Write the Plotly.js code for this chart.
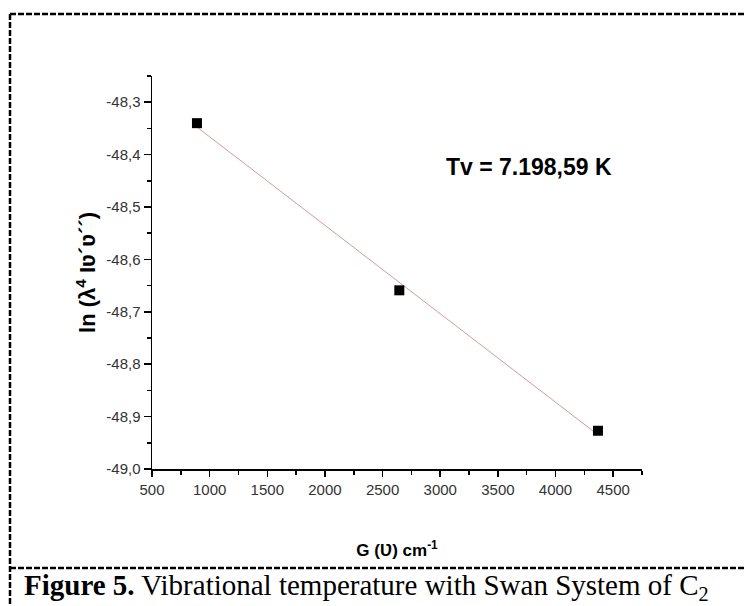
<!DOCTYPE html>
<html>
<head>
<meta charset="utf-8">
<script src="https://cdn.plot.ly/plotly-3.0.1.min.js"></script>
<style>
html,body{margin:0;padding:0;background:#fff;}
#chart{width:744px;height:606px;}
</style>
</head>
<body>
<div id="chart"></div>
<script>
// Data
var gValues = [890, 2645, 4368];            // G(v) cm^-1
var lnValues = [-48.340, -48.659, -48.927]; // ln(lambda^4 I)
var yTickVals = [-49.0, -48.9, -48.8, -48.7, -48.6, -48.5, -48.4, -48.3];
var yTickText = ['-49,0', '-48,9', '-48,8', '-48,7', '-48,6', '-48,5', '-48,4', '-48,3'];
var xTickVals = [500, 1000, 1500, 2000, 2500, 3000, 3500, 4000, 4500];
var xTickText = ['500', '1000', '1500', '2000', '2500', '3000', '3500', '4000', '4500'];
var annotationText = '<b>Tv = 7.198,59 K</b>';

// least squares linear fit through the data
var n = gValues.length, sx = 0, sy = 0, sxx = 0, sxy = 0;
for (var i = 0; i < n; i++) { sx += gValues[i]; sy += lnValues[i]; sxx += gValues[i]*gValues[i]; sxy += gValues[i]*lnValues[i]; }
var slope = (n*sxy - sx*sy) / (n*sxx - sx*sx);
var inter = (sy - slope*sx) / n;
var fitX = [gValues[0], gValues[n-1]];
var fitY = fitX.map(function(x){ return inter + slope*x; });

var traces = [
  {x: fitX, y: fitY, mode: 'lines', line: {color: '#d49a9a', width: 1}, hoverinfo: 'skip', showlegend: false},
  {x: gValues, y: lnValues, mode: 'markers', marker: {symbol: 'square', size: 10, color: '#000'}, showlegend: false}
];

var PL = 152, PR = 642, PT = 76, PB = 469;
function px(x){ return (x - PL) / (PR - PL); }
function py(y){ return (PB - y) / (PB - PT); }
var dash = {color: '#000', width: 2.5, dash: '6px,2px'};

var layout = {
  width: 744, height: 606,
  margin: {l: PL, r: 744 - PR, t: PT, b: 606 - PB},
  paper_bgcolor: '#fff', plot_bgcolor: '#fff',
  font: {family: 'Liberation Sans, Arial, sans-serif', color: '#222', size: 15},
  xaxis: {
    range: [500, 4750], showgrid: false, zeroline: false,
    showline: true, linecolor: '#000', linewidth: 1.5,
    ticks: 'outside', ticklen: 6, tickwidth: 1.5, tickcolor: '#000',
    tickmode: 'array', tickvals: xTickVals, ticktext: xTickText,
    minor: {ticks: 'outside', ticklen: 4, tickwidth: 1.5, tickcolor: '#000', dtick: 250, tick0: 500, showgrid: false},
    tickfont: {size: 15, color: '#333'},
    title: {text: '<b>G (Ʋ) cm<sup>-1</sup></b>', font: {size: 17, color: '#000'}, standoff: 47}
  },
  yaxis: {
    range: [-49.0, -48.25], showgrid: false, zeroline: false,
    showline: true, linecolor: '#000', linewidth: 1.5,
    ticks: 'outside', ticklen: 7, tickwidth: 1.5, tickcolor: '#000',
    tickmode: 'array', tickvals: yTickVals, ticktext: yTickText,
    minor: {ticks: 'outside', ticklen: 4, tickwidth: 1.5, tickcolor: '#000', dtick: 0.05, tick0: -49.0, showgrid: false},
    tickfont: {size: 15, color: '#333'},
    title: {text: '<b>ln (λ<sup>4</sup> Iʋ´ʋ´´)</b>', font: {size: 22, color: '#000'}, standoff: 4}
  },
  annotations: [
    {xref: 'paper', yref: 'paper', x: px(529), y: py(167), xanchor: 'center', yanchor: 'middle',
     text: annotationText, showarrow: false,
     font: {size: 23, color: '#000', family: 'Liberation Sans, Arial, sans-serif'}},
    {xref: 'paper', yref: 'paper', x: px(22), y: py(587), xanchor: 'left', yanchor: 'middle', showarrow: false,
     text: '<b>Figure 5.</b> Vibrational temperature with Swan System of C<sub>2</sub>',
     font: {size: 29, color: '#000', family: 'Liberation Serif, Times New Roman, serif'}}
  ],
  shapes: [
    {type: 'line', xref: 'paper', yref: 'paper', x0: px(10), x1: px(744), y0: py(14), y1: py(14), line: dash},
    {type: 'line', xref: 'paper', yref: 'paper', x0: px(10), x1: px(10), y0: py(14), y1: py(606), line: dash},
    {type: 'line', xref: 'paper', yref: 'paper', x0: px(10), x1: px(744), y0: py(568), y1: py(568), line: dash}
  ]
};

Plotly.newPlot('chart', traces, layout, {displayModeBar: false, staticPlot: true});
</script>
</body>
</html>
